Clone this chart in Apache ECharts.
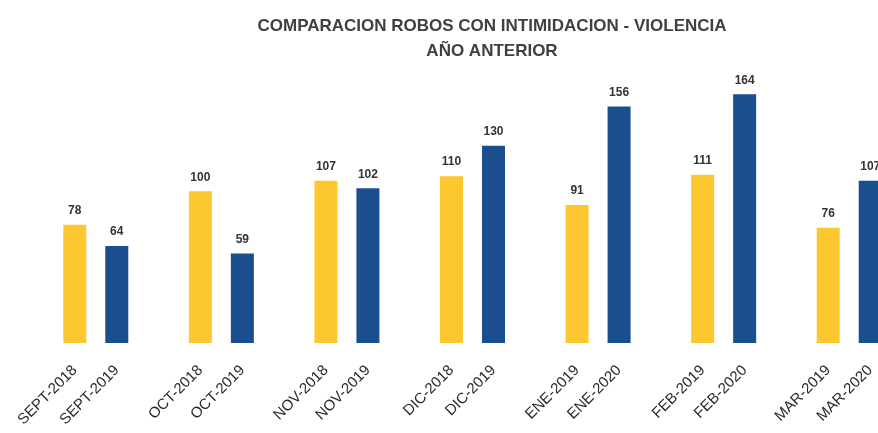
<!DOCTYPE html>
<html lang="es">
<head>
    <meta charset="UTF-8">
    <title>Comparacion robos con intimidacion - violencia</title>
    <script src="https://cdnjs.cloudflare.com/ajax/libs/echarts/6.0.0/echarts.min.js"></script>
    <style>
        html, body { margin: 0; padding: 0; background: #fff; overflow: hidden; }
    </style>
</head>
<body>
    <!-- el grafico original esta recortado a la derecha, por eso el lienzo es mas ancho que la ventana -->
    <div id="myChart" style="width: 940px;height: 433px;"></div>

    <script>
        // periodos del año anterior (amarillo) y del año actual (azul)
        const prevLabels = ['SEPT-2018', 'OCT-2018', 'NOV-2018', 'DIC-2018', 'ENE-2019', 'FEB-2019', 'MAR-2019'];
        const currLabels = ['SEPT-2019', 'OCT-2019', 'NOV-2019', 'DIC-2019', 'ENE-2020', 'FEB-2020', 'MAR-2020'];
        const prevValues = [78, 100, 107, 110, 91, 111, 76];
        const currValues = [64, 59, 102, 130, 156, 164, 107];

        const chart = echarts.init(document.getElementById('myChart'));

        const font = 'Liberation Sans, Arial, sans-serif';

        function xAxisFor(labels, gridIndex) {
            return {
                type: 'category',
                gridIndex: gridIndex,
                data: labels,
                axisLine: { show: false },
                axisTick: { show: false },
                axisLabel: {
                    interval: 0,
                    rotate: 45,
                    margin: 25,
                    color: '#2a2a2a',
                    fontSize: 15,
                    fontFamily: font
                }
            };
        }

        function yAxisFor(gridIndex) {
            return {
                type: 'value',
                gridIndex: gridIndex,
                min: 0,
                max: 180,
                show: false
            };
        }

        function barSeries(values, color, idx) {
            return {
                type: 'bar',
                xAxisIndex: idx,
                yAxisIndex: idx,
                data: values,
                barWidth: 23,
                itemStyle: { color: color },
                label: {
                    show: true,
                    position: 'top',
                    distance: 8,
                    color: '#333',
                    fontSize: 12,
                    fontWeight: 'bold',
                    fontFamily: font
                }
            };
        }

        const option = {
            backgroundColor: '#fff',
            animation: false,
            title: {
                text: 'COMPARACION ROBOS CON INTIMIDACION - VIOLENCIA\nAÑO ANTERIOR',
                left: 487,
                top: 9,
                textAlign: 'center',
                textStyle: {
                    color: '#404040',
                    fontSize: 17,
                    fontWeight: 'bold',
                    fontFamily: font,
                    lineHeight: 25
                }
            },
            grid: [
                { left: 12, width: 879, top: 70, bottom: 90 },
                { left: 54, width: 879, top: 70, bottom: 90 }
            ],
            xAxis: [xAxisFor(prevLabels, 0), xAxisFor(currLabels, 1)],
            yAxis: [yAxisFor(0), yAxisFor(1)],
            series: [
                barSeries(prevValues, '#FDC730', 0),
                barSeries(currValues, '#1A4E8E', 1)
            ]
        };
        chart.setOption(option);
    </script>
</body>
</html>
